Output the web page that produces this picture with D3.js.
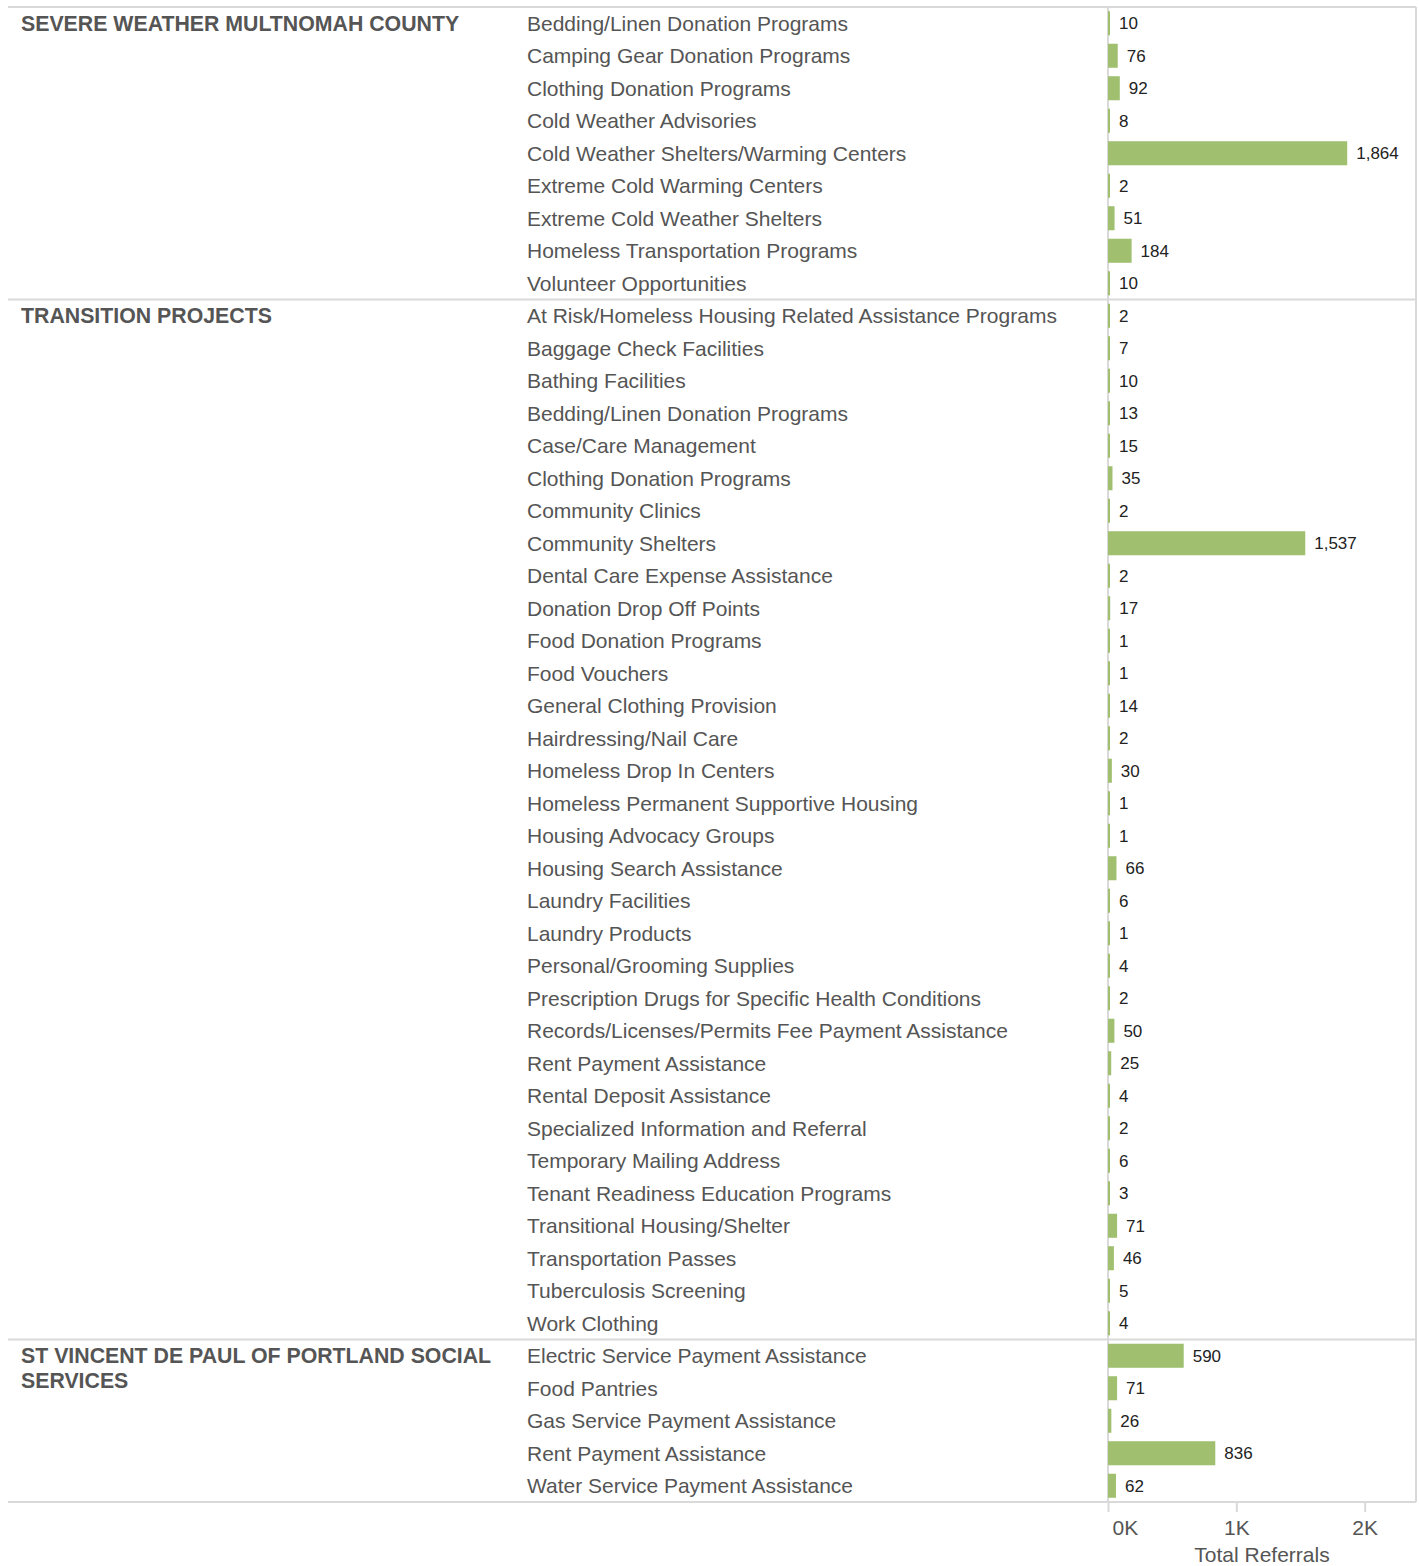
<!DOCTYPE html>
<html>
<head>
<meta charset="utf-8">
<script src="https://cdn.jsdelivr.net/npm/d3@7"></script>
<style>
  body { margin: 0; background: #fff; }
  text { font-family: "Liberation Sans", Arial, sans-serif; }
</style>
</head>
<body>
<div id="chart"></div>
<script>
const groupNames = [
  "SEVERE WEATHER MULTNOMAH COUNTY",
  "TRANSITION PROJECTS",
  "ST VINCENT DE PAUL OF PORTLAND SOCIAL SERVICES"
];

const severeCategories = [
  "Bedding/Linen Donation Programs", "Camping Gear Donation Programs", "Clothing Donation Programs",
  "Cold Weather Advisories", "Cold Weather Shelters/Warming Centers", "Extreme Cold Warming Centers",
  "Extreme Cold Weather Shelters", "Homeless Transportation Programs", "Volunteer Opportunities"
];
const severeValues = [10, 76, 92, 8, 1864, 2, 51, 184, 10];

const transitionCategories = [
  "At Risk/Homeless Housing Related Assistance Programs", "Baggage Check Facilities", "Bathing Facilities",
  "Bedding/Linen Donation Programs", "Case/Care Management", "Clothing Donation Programs",
  "Community Clinics", "Community Shelters", "Dental Care Expense Assistance",
  "Donation Drop Off Points", "Food Donation Programs", "Food Vouchers",
  "General Clothing Provision", "Hairdressing/Nail Care", "Homeless Drop In Centers",
  "Homeless Permanent Supportive Housing", "Housing Advocacy Groups", "Housing Search Assistance",
  "Laundry Facilities", "Laundry Products", "Personal/Grooming Supplies",
  "Prescription Drugs for Specific Health Conditions", "Records/Licenses/Permits Fee Payment Assistance",
  "Rent Payment Assistance", "Rental Deposit Assistance", "Specialized Information and Referral",
  "Temporary Mailing Address", "Tenant Readiness Education Programs", "Transitional Housing/Shelter",
  "Transportation Passes", "Tuberculosis Screening", "Work Clothing"
];
const transitionValues = [2, 7, 10, 13, 15, 35, 2, 1537, 2, 17, 1, 1, 14, 2, 30, 1, 1, 66, 6, 1, 4, 2, 50, 25, 4, 2, 6, 3, 71, 46, 5, 4];

const vincentCategories = [
  "Electric Service Payment Assistance", "Food Pantries", "Gas Service Payment Assistance",
  "Rent Payment Assistance", "Water Service Payment Assistance"
];
const vincentValues = [590, 71, 26, 836, 62];

const xTicks = [0, 1000, 2000];

const width = 1419, height = 1566;
const lineColor = "#d9d9d9", textColor = "#555", barColor = "#a0c070";

const groupData = [
  [severeCategories, severeValues],
  [transitionCategories, transitionValues],
  [vincentCategories, vincentValues]
];

const rows = [];
groupData.forEach(([cats, vals], gi) => {
  cats.forEach((c, i) => rows.push({ group: gi, first: i === 0, cat: c, value: vals[i], key: gi + "|" + c }));
});

const svg = d3.select("#chart").append("svg")
  .attr("width", width)
  .attr("height", height);

const x = d3.scaleLinear().domain([0, 2400]).range([1108, 1416]);
const y = d3.scaleBand()
  .domain(rows.map(d => d.key))
  .range([7, 1502])
  .paddingInner(0.26)
  .paddingOuter(0.13);

const half = (y.step() - y.bandwidth()) / 2;
const barW = d => Math.max(2, x(d.value) - x(0));

// separators between groups + bottom
const seps = rows.filter(d => d.first).map(d => y(d.key) - half).concat([1502]);
svg.selectAll(".sep")
  .data(seps)
  .join("line")
  .attr("x1", 8).attr("x2", 1416)
  .attr("y1", d => d).attr("y2", d => d)
  .attr("stroke", lineColor).attr("stroke-width", 2);

// zero line and right border
svg.append("line")
  .attr("x1", x(0)).attr("x2", x(0))
  .attr("y1", 7).attr("y2", 1502)
  .attr("stroke", lineColor).attr("stroke-width", 2);
svg.append("line")
  .attr("x1", 1416).attr("x2", 1416)
  .attr("y1", 7).attr("y2", 1502)
  .attr("stroke", lineColor).attr("stroke-width", 2);

// bars
svg.selectAll(".bar")
  .data(rows)
  .join("rect")
  .attr("class", "bar")
  .attr("x", x(0))
  .attr("y", d => y(d.key))
  .attr("height", y.bandwidth())
  .attr("width", barW)
  .attr("fill", barColor);

// value labels
svg.selectAll(".val")
  .data(rows)
  .join("text")
  .attr("x", d => x(0) + barW(d) + 9)
  .attr("y", d => y(d.key) + y.bandwidth() / 2)
  .attr("dy", "0.36em")
  .attr("font-size", "17px")
  .attr("fill", "#222")
  .text(d => d3.format(",")(d.value));

// row labels
svg.selectAll(".cat")
  .data(rows)
  .join("text")
  .attr("x", 527)
  .attr("y", d => y(d.key) + y.bandwidth() / 2)
  .attr("dy", "0.36em")
  .attr("font-size", "21px")
  .attr("fill", textColor)
  .text(d => d.cat);

// group headers, wrapped
rows.filter(d => d.first).forEach(d => {
  const t = svg.append("text")
    .attr("x", 21)
    .attr("y", y(d.key) + y.bandwidth() / 2)
    .attr("dy", "0.36em")
    .attr("font-size", "21.3px")
    .attr("font-weight", "bold")
    .attr("fill", textColor);
  const words = groupNames[d.group].split(" ");
  let line = [];
  let ts = t.append("tspan").attr("x", 21);
  words.forEach(w => {
    line.push(w);
    ts.text(line.join(" "));
    if (ts.node().getComputedTextLength() > 480 && line.length > 1) {
      line.pop();
      ts.text(line.join(" "));
      line = [w];
      ts = t.append("tspan").attr("x", 21).attr("dy", 25).text(w);
    }
  });
});

// x axis
const axis = svg.append("g")
  .attr("transform", "translate(0,1502)")
  .call(d3.axisBottom(x).tickValues(xTicks).tickFormat(d => d / 1000 + "K").tickSize(10));
axis.select(".domain").remove();
axis.selectAll(".tick line").attr("stroke", lineColor).attr("stroke-width", 2);
axis.selectAll(".tick text")
  .attr("y", 18)
  .attr("font-size", "21px")
  .attr("font-family", "Liberation Sans, Arial, sans-serif")
  .attr("fill", textColor);
axis.selectAll(".tick text").filter(d => d === 0)
  .attr("text-anchor", "start")
  .attr("x", 4);

svg.append("text")
  .attr("x", (x.range()[0] + x.range()[1]) / 2)
  .attr("y", 1562)
  .attr("text-anchor", "middle")
  .attr("font-size", "21px")
  .attr("fill", textColor)
  .text("Total Referrals");
</script>
</body>
</html>
